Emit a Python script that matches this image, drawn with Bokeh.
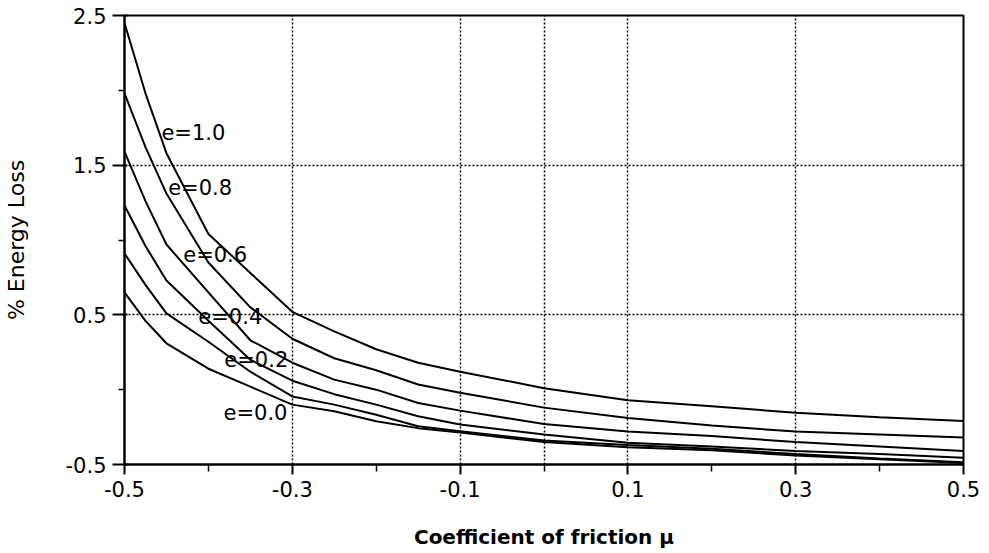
from bokeh.plotting import figure
from bokeh.models import FixedTicker, ColumnDataSource
from bokeh.core.properties import value
from bokeh.embed import file_html
from bokeh.resources import INLINE

# coefficient of friction
mu = [-0.5, -0.475, -0.45, -0.4, -0.35, -0.3, -0.25, -0.2, -0.15, -0.1, 0.0, 0.1, 0.2, 0.3, 0.4, 0.5]

# % energy loss for each coefficient of restitution e
loss_e10 = [2.45, 1.98, 1.58, 1.04, 0.78, 0.52, 0.39, 0.27, 0.18, 0.12, 0.01, -0.07, -0.11, -0.155, -0.185, -0.21]
loss_e08 = [1.98, 1.62, 1.31, 0.85, 0.55, 0.34, 0.21, 0.13, 0.035, -0.02, -0.12, -0.19, -0.24, -0.28, -0.30, -0.32]
loss_e06 = [1.59, 1.26, 0.97, 0.65, 0.33, 0.18, 0.067, 0.0, -0.089, -0.14, -0.23, -0.28, -0.31, -0.35, -0.38, -0.41]
loss_e04 = [1.23, 0.96, 0.73, 0.46, 0.20, 0.06, -0.03, -0.10, -0.178, -0.233, -0.30, -0.355, -0.38, -0.41, -0.43, -0.455]
loss_e02 = [0.91, 0.70, 0.51, 0.32, 0.12, -0.045, -0.10, -0.167, -0.244, -0.278, -0.34, -0.37, -0.395, -0.43, -0.46, -0.485]
loss_e00 = [0.65, 0.46, 0.31, 0.14, 0.02, -0.10, -0.144, -0.211, -0.257, -0.287, -0.35, -0.385, -0.405, -0.44, -0.465, -0.49]

series = [loss_e10, loss_e08, loss_e06, loss_e04, loss_e02, loss_e00]

# curve labels and their anchor points
labels = ["e=1.0", "e=0.8", "e=0.6", "e=0.4", "e=0.2", "e=0.0"]
label_x = [-0.456, -0.448, -0.43, -0.412, -0.381, -0.382]
label_y = [1.713, 1.347, 0.90, 0.487, 0.20, -0.153]

# axis ticks
x_major = [-0.5, -0.3, -0.1, 0.1, 0.3, 0.5]
x_major_text = ["-0.5", "-0.3", "-0.1", "0.1", "0.3", "0.5"]
x_minor = [-0.4, -0.2, 0.0, 0.2, 0.4]
y_major = [-0.5, 0.5, 1.5, 2.5]
y_major_text = ["-0.5", "0.5", "1.5", "2.5"]
y_minor = [0.0, 1.0, 2.0]
x_grid = [-0.3, -0.1, 0.0, 0.1, 0.3]
y_grid = [0.5, 1.5]

FONT = "DejaVu Sans"

p = figure(width=985, height=551, output_backend="svg", toolbar_location=None,
           x_range=(-0.5, 0.5), y_range=(-0.5, 2.5),
           min_border_left=122, min_border_right=22, min_border_top=15, min_border_bottom=86)
p.background_fill_color = "white"
p.border_fill_color = "white"
p.outline_line_color = "black"
p.outline_line_width = 2

for ys in series:
    p.line(mu, ys, line_color="black", line_width=2)

src = ColumnDataSource(dict(x=label_x, y=label_y, t=labels))
p.text(x="x", y="y", text="t", source=src, text_font=value(FONT), text_font_size="21px",
       text_align="left", text_baseline="middle", text_color="black")

# grids
p.xgrid.ticker = FixedTicker(ticks=x_grid)
p.ygrid.ticker = FixedTicker(ticks=y_grid)
for g in (p.xgrid, p.ygrid):
    g.grid_line_color = "black"
    g.grid_line_dash = "2 2"
    g.grid_line_width = 1.5

# x axis
xa = p.xaxis[0]
xa.ticker = FixedTicker(ticks=x_major, minor_ticks=x_minor)
xa.major_label_overrides = dict(zip(x_major, x_major_text))
xa.axis_label = "Coefficient of friction μ"
xa.axis_label_text_font = FONT
xa.axis_label_text_font_style = "bold"
xa.axis_label_text_font_size = "20px"
xa.axis_label_standoff = 25
xa.major_label_text_font = FONT
xa.major_label_text_font_size = "21px"
xa.major_label_standoff = 6
xa.major_tick_out = 10
xa.major_tick_in = 0
xa.minor_tick_out = 7
xa.minor_tick_in = 0
xa.axis_line_width = 2
xa.major_tick_line_width = 2
xa.minor_tick_line_width = 1.5

# y axis
ya = p.yaxis[0]
ya.ticker = FixedTicker(ticks=y_major, minor_ticks=y_minor)
ya.major_label_overrides = dict(zip(y_major, y_major_text))
ya.axis_label = "% Energy Loss"
ya.axis_label_text_font = FONT
ya.axis_label_text_font_style = "normal"
ya.axis_label_text_font_size = "22px"
ya.axis_label_standoff = 34
ya.major_label_text_font = FONT
ya.major_label_text_font_size = "21px"
ya.major_label_standoff = 6
ya.major_tick_out = 12
ya.major_tick_in = 3
ya.minor_tick_out = 6
ya.minor_tick_in = 0
ya.axis_line_width = 2
ya.major_tick_line_width = 2
ya.minor_tick_line_width = 1.5

for ax in (xa, ya):
    ax.axis_line_color = "black"
    ax.major_tick_line_color = "black"
    ax.minor_tick_line_color = "black"
    ax.major_label_text_color = "black"
    ax.axis_label_text_color = "black"

open("out.html", "w").write(file_html(p, INLINE))
